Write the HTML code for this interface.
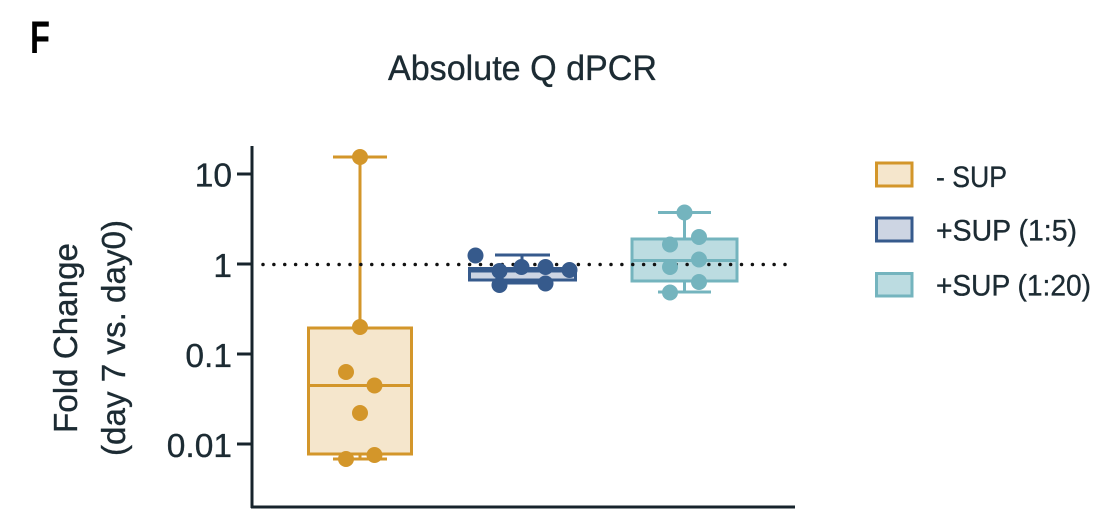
<!DOCTYPE html>
<html>
<head>
<meta charset="utf-8">
<style>
  html,body{margin:0;padding:0;background:#fff;}
  svg{display:block;}
  text{font-family:"Liberation Sans", sans-serif;}
</style>
</head>
<body>
<svg width="1104" height="521" viewBox="0 0 1104 521" xmlns="http://www.w3.org/2000/svg">
  <rect width="1104" height="521" fill="#fff"/>

  <!-- Panel letter -->
  <text x="30" y="53" font-size="45" font-weight="bold" fill="#000" textLength="20" lengthAdjust="spacingAndGlyphs">F</text>

  <!-- Title -->
  <text x="388" y="80" font-size="35" fill="#1c2b33" stroke="#1c2b33" stroke-width="0.35" textLength="269" lengthAdjust="spacingAndGlyphs">Absolute Q dPCR</text>

  <!-- Y-axis label -->
  <g fill="#1c2b33" stroke="#1c2b33" stroke-width="0.35">
    <text transform="translate(77,338) rotate(-90)" text-anchor="middle" font-size="33" textLength="190" lengthAdjust="spacingAndGlyphs">Fold Change</text>
    <text transform="translate(125,338) rotate(-90)" text-anchor="middle" font-size="33" textLength="236" lengthAdjust="spacingAndGlyphs">(day 7 vs. day0)</text>
  </g>

  <!-- Tick labels -->
  <g font-size="33.5" fill="#1c2b33" stroke="#1c2b33" stroke-width="0.35" text-anchor="end">
    <text x="232" y="186.5">10</text>
    <text x="232" y="277">1</text>
    <text x="232" y="367">0.1</text>
    <text x="232" y="457">0.01</text>
  </g>

  <!-- Axes -->
  <g stroke="#17242c" stroke-width="3" fill="none">
    <line x1="252" y1="146" x2="252" y2="508"/>
    <line x1="251" y1="507" x2="795" y2="507"/>
    <line x1="237" y1="174" x2="252" y2="174"/>
    <line x1="237" y1="264" x2="252" y2="264"/>
    <line x1="237" y1="354" x2="252" y2="354"/>
    <line x1="237" y1="444" x2="252" y2="444"/>
  </g>

  <!-- Orange group (- SUP) -->
  <g stroke="#D3962A" stroke-width="3" fill="none">
    <rect x="308.5" y="328" width="103" height="126" fill="#F5E6CC"/>
    <line x1="308.5" y1="385.5" x2="411.5" y2="385.5"/>
    <line x1="360" y1="157" x2="360" y2="328"/>
    <line x1="333" y1="157" x2="387" y2="157"/>
    <line x1="360" y1="454" x2="360" y2="459"/>
    <line x1="333" y1="459" x2="387" y2="459"/>
  </g>

  <!-- Blue group (+SUP 1:5) -->
  <g stroke="#365A8C" stroke-width="3" fill="none">
    <rect x="469.5" y="268.5" width="106" height="11.5" fill="#CDD5E3"/>
    <line x1="469.5" y1="271" x2="575.5" y2="271"/>
    <line x1="522" y1="255" x2="522" y2="268"/>
    <line x1="495" y1="255" x2="550" y2="255"/>
    <line x1="522" y1="280" x2="522" y2="283"/>
    <line x1="495" y1="283" x2="550" y2="283"/>
  </g>

  <!-- Teal group (+SUP 1:20) -->
  <g stroke="#74B4BE" stroke-width="3" fill="none">
    <rect x="632" y="239" width="105" height="42" fill="#BCDCE1"/>
    <line x1="632" y1="260.5" x2="737" y2="260.5"/>
    <line x1="684.5" y1="212.5" x2="684.5" y2="239"/>
    <line x1="658" y1="212.5" x2="711" y2="212.5"/>
    <line x1="684.5" y1="281" x2="684.5" y2="292"/>
    <line x1="658" y1="292" x2="711" y2="292"/>
  </g>

  <!-- Dotted reference line at 1 -->
  <line x1="263" y1="264.5" x2="786.5" y2="264.5" stroke="#111" stroke-width="3.5" stroke-linecap="round" stroke-dasharray="0 10.875"/>

  <!-- Orange dots -->
  <g fill="#D3962A">
    <circle cx="360" cy="157" r="8"/>
    <circle cx="360" cy="327" r="8"/>
    <circle cx="346" cy="372" r="8"/>
    <circle cx="374.5" cy="385.5" r="8"/>
    <circle cx="360" cy="413" r="8"/>
    <circle cx="346" cy="459" r="8"/>
    <circle cx="374.5" cy="455" r="8"/>
  </g>

  <!-- Blue dots -->
  <g fill="#365A8C">
    <circle cx="475.5" cy="255.5" r="8"/>
    <circle cx="499.5" cy="271" r="8"/>
    <circle cx="521.5" cy="267" r="8"/>
    <circle cx="545.5" cy="267" r="8"/>
    <circle cx="569.5" cy="270" r="8"/>
    <circle cx="499.5" cy="285" r="8"/>
    <circle cx="545.5" cy="283.5" r="8"/>
  </g>

  <!-- Teal dots -->
  <g fill="#74B4BE">
    <circle cx="684.5" cy="212.5" r="8"/>
    <circle cx="670" cy="244.5" r="8"/>
    <circle cx="699" cy="237" r="8"/>
    <circle cx="699" cy="259.5" r="8"/>
    <circle cx="670" cy="267" r="8"/>
    <circle cx="699" cy="282" r="8"/>
    <circle cx="670" cy="292.5" r="8"/>
  </g>

  <!-- Legend -->
  <g stroke-width="3">
    <rect x="876.5" y="163" width="35.5" height="23" fill="#F5E6CC" stroke="#D3962A"/>
    <rect x="876.5" y="218" width="35.5" height="23" fill="#CDD5E3" stroke="#365A8C"/>
    <rect x="876.5" y="273.5" width="35.5" height="22.5" fill="#BCDCE1" stroke="#74B4BE"/>
  </g>
  <g font-size="30" fill="#1c2b33" stroke="#1c2b33" stroke-width="0.35">
    <text x="936" y="187" textLength="71" lengthAdjust="spacingAndGlyphs">- SUP</text>
    <text x="936" y="240.5" textLength="141" lengthAdjust="spacingAndGlyphs">+SUP (1:5)</text>
    <text x="936" y="295.5" textLength="155" lengthAdjust="spacingAndGlyphs">+SUP (1:20)</text>
  </g>
</svg>
</body>
</html>
